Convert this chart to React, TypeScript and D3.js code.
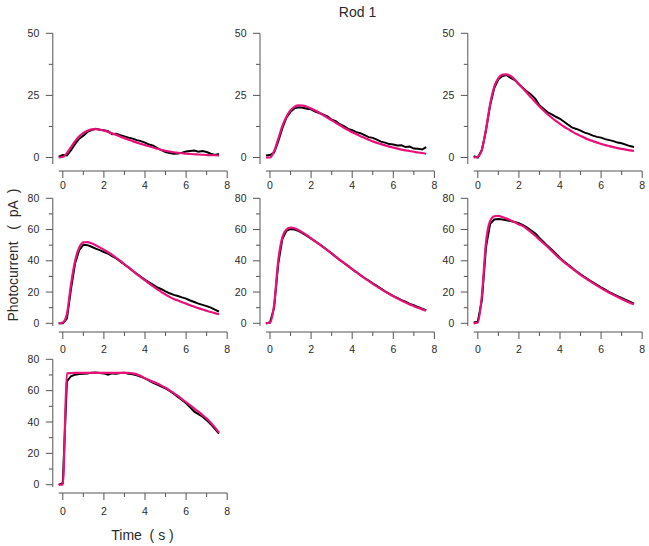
import React from 'react';
import * as d3 from 'd3';

// time grid (s)
const TIME = [-0.2, 0, 0.2, 0.4, 0.6, 0.8, 1.0, 1.2, 1.4, 1.6, 1.8, 2.0, 2.2, 2.4, 2.6, 2.8, 3.0, 3.2, 3.4, 3.6, 3.8, 4.0, 4.2, 4.4, 4.6, 4.8, 5.0, 5.2, 5.4, 5.6, 5.8, 6.0, 6.2, 6.4, 6.6, 6.8, 7.0, 7.2, 7.4, 7.6];

// recorded photocurrent (pA)
const REC_1 = [0.3, 1.0, 0.8, 3.0, 5.5, 7.6, 8.8, 10.3, 11.0, 11.6, 11.2, 11.0, 10.6, 9.4, 9.6, 9.0, 8.5, 8.0, 7.6, 7.0, 6.6, 6.0, 5.2, 4.8, 3.8, 3.0, 2.2, 1.8, 1.5, 1.6, 1.9, 2.4, 2.6, 2.8, 2.3, 2.6, 2.2, 1.5, 1.0, 1.4];
const REC_2 = [0.8, 1.0, 2.0, 6.5, 11.8, 16.0, 18.4, 19.8, 20.2, 20.0, 19.6, 19.4, 18.5, 17.9, 17.2, 16.6, 15.2, 14.6, 13.4, 12.6, 11.5, 11.0, 10.2, 9.8, 9.0, 8.2, 7.9, 7.2, 6.4, 6.0, 5.4, 5.2, 4.8, 4.9, 4.2, 4.4, 3.6, 3.5, 3.2, 4.2];
const REC_3 = [0.5, 0.0, 3.0, 11.0, 21.0, 28.0, 31.5, 32.8, 33.2, 32.0, 31.2, 29.5, 28.0, 26.5, 25.3, 23.6, 21.0, 19.6, 18.2, 17.4, 16.4, 15.6, 14.4, 13.2, 12.0, 11.5, 10.8, 10.0, 9.5, 8.8, 8.3, 8.0, 7.4, 7.0, 6.6, 6.0, 5.7, 5.2, 4.6, 4.2];
const REC_4 = [0, 0, 3.0, 22.0, 38.5, 47.0, 50.2, 50.0, 49.0, 47.8, 46.8, 45.6, 44.6, 43.0, 41.5, 39.6, 37.6, 35.8, 33.6, 31.6, 29.8, 27.8, 26.2, 24.6, 23.0, 21.8, 20.4, 19.2, 18.2, 17.5, 16.6, 15.8, 14.6, 13.6, 12.6, 11.8, 11.0, 10.0, 8.8, 7.4];
const REC_5 = [0, 0.5, 10, 38, 54, 59.2, 60.4, 60.0, 59.0, 57.6, 56.0, 54.2, 52.4, 50.6, 48.8, 46.8, 44.8, 42.6, 40.4, 38.6, 36.8, 34.6, 32.8, 30.8, 29.0, 27.4, 25.6, 24.0, 22.2, 20.4, 19.0, 17.4, 16.2, 14.8, 13.8, 12.4, 11.6, 10.4, 9.4, 8.4];
const REC_6 = [0.5, 1.0, 15, 49, 63.6, 66.4, 66.8, 66.4, 66.0, 65.4, 64.8, 64.0, 62.8, 61.2, 59.4, 57.4, 54.6, 52.0, 49.4, 47.0, 44.6, 41.8, 39.6, 37.4, 35.4, 33.2, 31.4, 29.6, 27.8, 26.2, 24.6, 23.0, 21.6, 20.0, 18.6, 17.4, 16.2, 15.0, 13.8, 12.6];
const REC_7 = [0, 1.0, 66, 69.2, 70.2, 70.6, 70.8, 71.0, 71.5, 71.6, 71.3, 71.0, 70.2, 71.0, 70.8, 71.2, 71.4, 70.8, 70.4, 69.8, 68.9, 67.8, 66.4, 65.0, 63.8, 62.6, 61.4, 59.8, 58.0, 56.0, 54.0, 52.0, 49.4, 46.6, 45.0, 43.4, 41.2, 38.6, 35.6, 32.6];

// model fits (pA)
const FIT_1 = [0, 0.2, 1.8, 4.2, 6.6, 8.5, 9.9, 10.8, 11.3, 11.4, 11.2, 10.8, 10.3, 9.7, 9.1, 8.4, 7.8, 7.2, 6.6, 6.0, 5.5, 5.0, 4.5, 4.0, 3.5, 3.1, 2.7, 2.4, 2.1, 1.9, 1.7, 1.5, 1.4, 1.3, 1.2, 1.1, 1.0, 0.9, 0.9, 0.8];
const FIT_2 = [0, 0, 2.5, 7.5, 12.6, 16.4, 19.0, 20.5, 21.0, 20.9, 20.4, 19.7, 18.9, 18.0, 17.0, 16.0, 15.0, 14.0, 13.0, 12.0, 11.1, 10.2, 9.4, 8.6, 7.9, 7.2, 6.5, 5.9, 5.4, 4.9, 4.4, 4.0, 3.6, 3.2, 2.9, 2.6, 2.3, 2.0, 1.8, 1.5];
const FIT_3 = [0, 0.3, 3.2, 11.5, 21.5, 28.5, 32.0, 33.4, 33.5, 32.8, 31.4, 29.6, 27.8, 26.0, 24.1, 22.3, 20.5, 18.9, 17.4, 16.0, 14.7, 13.5, 12.4, 11.4, 10.4, 9.5, 8.7, 7.9, 7.2, 6.6, 6.0, 5.5, 5.0, 4.6, 4.2, 3.8, 3.5, 3.2, 2.9, 2.6];
const FIT_4 = [0, 0.5, 6.0, 25.0, 40.0, 48.5, 51.8, 52.0, 51.2, 50.0, 48.6, 47.1, 45.5, 43.8, 41.9, 39.9, 37.8, 35.7, 33.6, 31.5, 29.4, 27.4, 25.5, 23.6, 21.8, 20.0, 18.4, 16.9, 15.6, 14.6, 13.5, 12.6, 11.6, 10.6, 9.7, 8.8, 8.0, 7.2, 6.5, 5.9];
const FIT_5 = [0, 0.5, 12, 40, 55, 60, 61.2, 60.8, 59.6, 58.0, 56.3, 54.4, 52.5, 50.6, 48.6, 46.6, 44.6, 42.6, 40.6, 38.6, 36.6, 34.6, 32.7, 30.8, 28.9, 27.1, 25.3, 23.6, 21.9, 20.3, 18.8, 17.3, 15.9, 14.6, 13.3, 12.1, 11.0, 9.9, 8.9, 8.0];
const FIT_6 = [0, 0.5, 18, 52, 65.5, 68.5, 68.7, 68.0, 67.0, 65.8, 64.6, 63.3, 62.2, 60.3, 58.2, 56.0, 53.5, 51.2, 48.8, 46.3, 43.8, 41.3, 39.1, 37.0, 35.0, 33.0, 31.0, 29.2, 27.5, 25.8, 24.1, 22.5, 21.0, 19.6, 18.2, 16.8, 15.5, 14.3, 13.2, 12.2];
const FIT_7 = [0, 0, 71.0, 71.2, 71.3, 71.3, 71.3, 71.3, 71.4, 71.4, 71.4, 71.4, 71.4, 71.4, 71.4, 71.4, 71.3, 71.3, 71.0, 70.4, 69.3, 67.9, 66.8, 65.6, 64.5, 63.2, 61.8, 60.2, 58.4, 56.6, 54.6, 52.6, 50.6, 48.6, 46.6, 44.4, 42.2, 39.6, 36.6, 33.2];

// axis ticks
const Y_MAJOR_TOP = [0, 25, 50];
const Y_MINOR_TOP = [12.5, 37.5];
const Y_MAJOR = [0, 20, 40, 60, 80];
const Y_MINOR = [10, 30, 50, 70];
const X_MAJOR = [0, 2, 4, 6, 8];
const X_MINOR = [1, 3, 5, 7];

const TITLE = 'Rod 1';
const Y_LABEL = 'Photocurrent   (  pA  )';
const X_LABEL = 'Time  ( s )';

// layout
const ROWS = [
  { yMax: 50, top: 33.3, zero: 157.5, axisEnd: 164, xAxisY: 171, labelY: 189, major: Y_MAJOR_TOP, minor: Y_MINOR_TOP },
  { yMax: 80, top: 198.3, zero: 323.3, axisEnd: 326, xAxisY: 332, labelY: 353, major: Y_MAJOR, minor: Y_MINOR },
  { yMax: 80, top: 359.3, zero: 484.7, axisEnd: 487, xAxisY: 493, labelY: 515, major: Y_MAJOR, minor: Y_MINOR },
];
const COL_X0 = [62.8, 270.0, 477.8];
const X_SPAN = 164.4;

const PANELS = [
  { row: 0, col: 0, rec: REC_1, fit: FIT_1 },
  { row: 0, col: 1, rec: REC_2, fit: FIT_2 },
  { row: 0, col: 2, rec: REC_3, fit: FIT_3 },
  { row: 1, col: 0, rec: REC_4, fit: FIT_4 },
  { row: 1, col: 1, rec: REC_5, fit: FIT_5 },
  { row: 1, col: 2, rec: REC_6, fit: FIT_6 },
  { row: 2, col: 0, rec: REC_7, fit: FIT_7 },
];

const FONT = '"Liberation Sans", Arial, sans-serif';
const AXIS = '#555';
const TEXT = '#2a2a2a';
const MAGENTA = '#e6127a';

function Panel({ row, col, rec, fit }: { row: number; col: number; rec: number[]; fit: number[] }) {
  const r = ROWS[row];
  const x0 = COL_X0[col];
  const xs = d3.scaleLinear().domain([0, 8]).range([x0, x0 + X_SPAN]);
  const ys = d3.scaleLinear().domain([0, r.yMax]).range([r.zero, r.top]);
  const axisX = x0 - 10;
  const recLine = d3.line<number>().x((_, i) => xs(TIME[i])).y((d) => ys(d)).curve(d3.curveLinear);
  const fitLine = d3.line<number>().x((_, i) => xs(TIME[i])).y((d) => ys(d)).curve(d3.curveMonotoneX);
  return (
    <g>
      <line x1={axisX} x2={axisX} y1={ys(r.yMax)} y2={r.axisEnd} stroke={AXIS} strokeWidth={1} />
      {r.major.map((v) => (
        <g key={'ym' + v}>
          <line x1={axisX - 7} x2={axisX} y1={ys(v)} y2={ys(v)} stroke={AXIS} strokeWidth={1} />
          <text x={axisX - 13.5} y={ys(v)} dy="0.35em" textAnchor="end" fontSize={10.5} fill={TEXT} fontFamily={FONT}>{v}</text>
        </g>
      ))}
      {r.minor.map((v) => (
        <line key={'yn' + v} x1={axisX - 4} x2={axisX} y1={ys(v)} y2={ys(v)} stroke={AXIS} strokeWidth={1} />
      ))}
      <line x1={xs(-0.2)} x2={xs(8)} y1={r.xAxisY} y2={r.xAxisY} stroke={AXIS} strokeWidth={1} />
      {X_MAJOR.map((v) => (
        <g key={'xm' + v}>
          <line x1={xs(v)} x2={xs(v)} y1={r.xAxisY} y2={r.xAxisY + 7} stroke={AXIS} strokeWidth={1} />
          <text x={xs(v)} y={r.labelY} textAnchor="middle" fontSize={10.5} fill={TEXT} fontFamily={FONT}>{v}</text>
        </g>
      ))}
      {X_MINOR.map((v) => (
        <line key={'xn' + v} x1={xs(v)} x2={xs(v)} y1={r.xAxisY} y2={r.xAxisY + 4} stroke={AXIS} strokeWidth={1} />
      ))}
      <path d={recLine(rec) || ''} fill="none" stroke="#000" strokeWidth={2} />
      <path d={fitLine(fit) || ''} fill="none" stroke={MAGENTA} strokeWidth={2.2} />
    </g>
  );
}

export default function App() {
  return (
    <svg width={649} height={546} style={{ position: 'absolute', left: 0, top: 0, background: '#fff' }}>
      <rect x={0} y={0} width={649} height={546} fill="#fff" />
      <text x={357.5} y={17} textAnchor="middle" fontSize={14} fill={TEXT} fontFamily={FONT}>{TITLE}</text>
      {PANELS.map((p, i) => (
        <Panel key={i} {...p} />
      ))}
      <text transform="translate(18,255) rotate(-90)" textAnchor="middle" fontSize={14} fill={TEXT} fontFamily={FONT} style={{ whiteSpace: 'pre' }}>{Y_LABEL}</text>
      <text x={142.5} y={540} textAnchor="middle" fontSize={14} fill={TEXT} fontFamily={FONT} style={{ whiteSpace: 'pre' }}>{X_LABEL}</text>
    </svg>
  );
}
